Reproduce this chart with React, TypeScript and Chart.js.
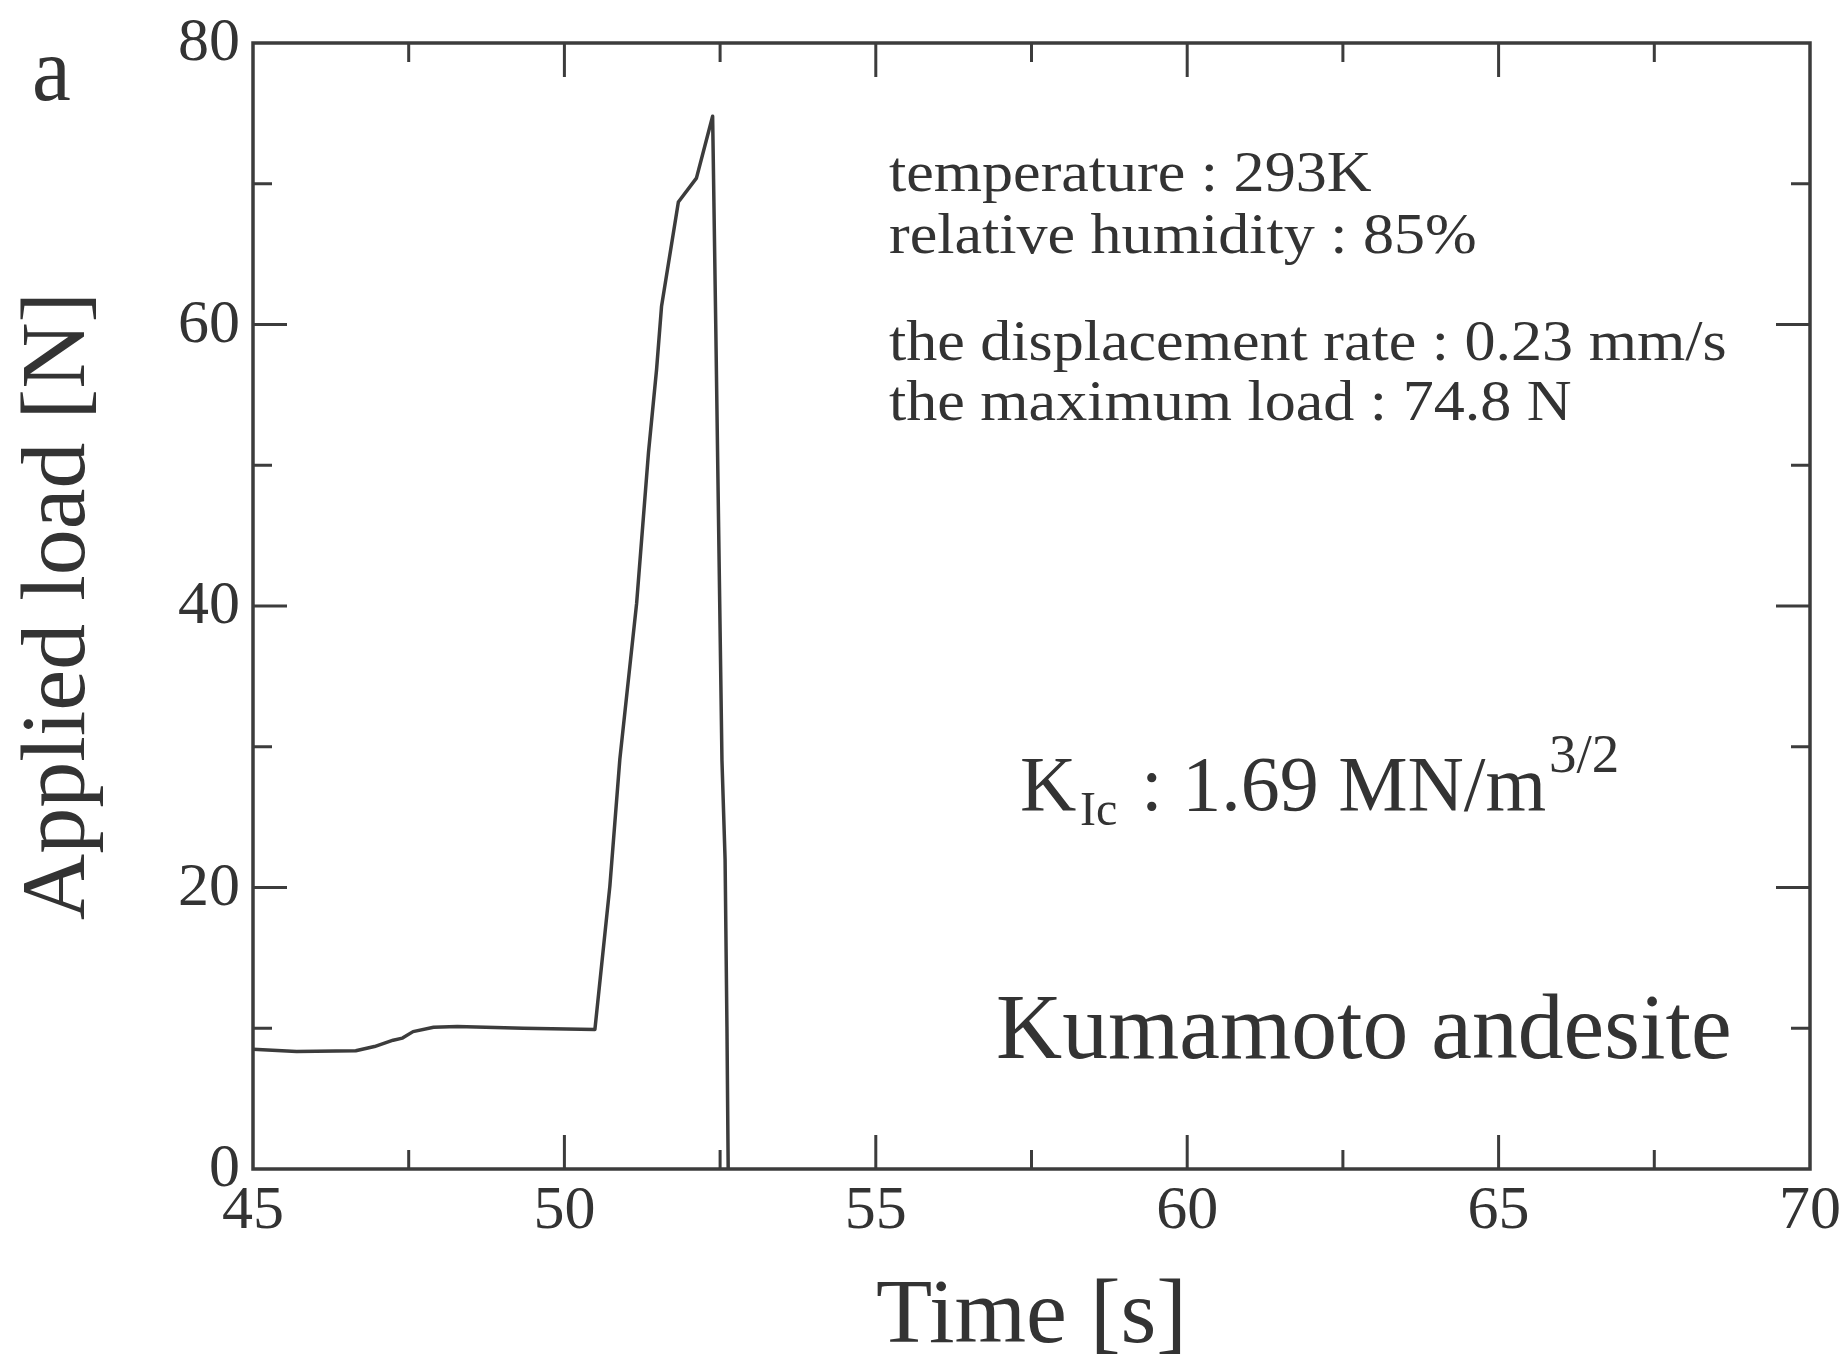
import React, { useEffect, useRef } from "react";
import { Chart, registerables } from "chart.js";

Chart.register(...registerables);

// ---- data ----
const times = [
  45.0, 45.7, 46.65, 46.95, 47.25, 47.4, 47.57, 47.9, 48.28, 49.34, 50.49,
  50.73, 50.89, 51.16, 51.35, 51.48, 51.56, 51.83, 52.12, 52.38, 52.43, 52.53,
  52.58, 52.61, 52.63,
];
const loads = [
  8.5, 8.35, 8.4, 8.7, 9.15, 9.3, 9.76, 10.07, 10.13, 10.0, 9.92, 20.1, 29.1,
  40.2, 50.9, 56.8, 61.3, 68.7, 70.4, 74.8, 60.0, 29.0, 22.0, 10.1, 0.0,
];

const xMin = 45;
const xMax = 70;
const xMajorStep = 5;
const xMinorStep = 2.5;
const yMin = 0;
const yMax = 80;
const yMajorStep = 20;
const yMinorStep = 10;

const xTitle = "Time [s]";
const yTitle = "Applied load [N]";
const panelLabel = "a";
const infoLines = [
  "temperature : 293K",
  "relative humidity : 85%",
  "the displacement rate : 0.23 mm/s",
  "the maximum load : 74.8 N",
];
const kMain = "K";
const kSub = "Ic";
const kValue = ": 1.69 MN/m";
const kSup = "3/2";
const rockName = "Kumamoto andesite";

const FONT = '"Liberation Serif", "Times New Roman", serif';
const TEXT = "#333333";
const LINE = "#3c3c3c";

function drawText(
  ctx: CanvasRenderingContext2D,
  text: string,
  x: number,
  y: number,
  size: number,
  sx: number,
  align: CanvasTextAlign = "left"
) {
  ctx.save();
  ctx.translate(x, y);
  ctx.scale(sx, 1);
  ctx.font = `${size}px ${FONT}`;
  ctx.fillStyle = TEXT;
  ctx.textAlign = align;
  ctx.textBaseline = "alphabetic";
  ctx.fillText(text, 0, 0);
  ctx.restore();
}

const framePlugin = {
  id: "frameTicksText",
  afterDraw(chart: any) {
    const ctx: CanvasRenderingContext2D = chart.ctx;
    const { left, right, top, bottom } = chart.chartArea;
    const xs = chart.scales.x;
    const ys = chart.scales.y;
    ctx.save();
    ctx.strokeStyle = LINE;
    ctx.lineWidth = 3.5;
    ctx.strokeRect(left, top, right - left, bottom - top);
    ctx.lineWidth = 3;
    ctx.beginPath();
    for (let v = xMin + xMinorStep; v < xMax - 1e-9; v += xMinorStep) {
      const major = Math.abs(v / xMajorStep - Math.round(v / xMajorStep)) < 1e-6;
      const len = major ? 34 : 19;
      const px = xs.getPixelForValue(v);
      ctx.moveTo(px, bottom);
      ctx.lineTo(px, bottom - len);
      ctx.moveTo(px, top);
      ctx.lineTo(px, top + len);
    }
    for (let v = yMin + yMinorStep; v < yMax - 1e-9; v += yMinorStep) {
      const major = Math.abs(v / yMajorStep - Math.round(v / yMajorStep)) < 1e-6;
      const len = major ? 34 : 19;
      const py = ys.getPixelForValue(v);
      ctx.moveTo(left, py);
      ctx.lineTo(left + len, py);
      ctx.moveTo(right, py);
      ctx.lineTo(right - len, py);
    }
    ctx.stroke();
    ctx.restore();

    // tick labels from the scales' own ticks
    xs.ticks.forEach((t: any) => {
      drawText(ctx, String(t.value), xs.getPixelForValue(t.value), bottom + 59, 62, 1, "center");
    });
    ys.ticks.forEach((t: any) => {
      drawText(ctx, String(t.value), left - 13, ys.getPixelForValue(t.value) + 17, 62, 1, "right");
    });

    // annotations
    drawText(ctx, panelLabel, 32, 100, 92, 0.95);
    const base = [191, 253, 360, 420];
    infoLines.forEach((t, i) => drawText(ctx, t, 889, base[i], 58, 1.07));
    drawText(ctx, kMain, 1020, 810, 78, 1);
    drawText(ctx, kSub, 1080, 825, 48, 1);
    drawText(ctx, kValue, 1141, 810, 78, 1);
    drawText(ctx, kSup, 1549, 772, 55, 1);
    drawText(ctx, rockName, 996, 1058, 94, 0.975);
  },
};

export default function App() {
  const canvasRef = useRef<HTMLCanvasElement | null>(null);

  useEffect(() => {
    const canvas = canvasRef.current;
    if (!canvas) return;
    const points = times.map((t, i) => ({ x: t, y: loads[i] }));
    const chart = new Chart(canvas, {
      type: "line",
      data: {
        datasets: [
          {
            data: points,
            borderColor: LINE,
            borderWidth: 3.5,
            borderJoinStyle: "round",
            pointRadius: 0,
            tension: 0,
            fill: false,
          },
        ],
      },
      options: {
        animation: false,
        responsive: false,
        devicePixelRatio: 1,
        layout: { padding: { top: 43, right: 37, left: 0, bottom: 0 } },
        plugins: { legend: { display: false }, tooltip: { enabled: false } },
        scales: {
          x: {
            type: "linear",
            min: xMin,
            max: xMax,
            ticks: { stepSize: xMajorStep, display: false },
            grid: { display: false, drawTicks: false },
            border: { display: false },
            title: {
              display: true,
              text: xTitle,
              color: TEXT,
              font: { family: FONT, size: 92, lineHeight: 1 },
              padding: { top: 0, bottom: 7 },
            },
            afterFit(s: any) {
              s.height = 202;
            },
          },
          y: {
            type: "linear",
            min: yMin,
            max: yMax,
            ticks: { stepSize: yMajorStep, display: false },
            grid: { display: false, drawTicks: false },
            border: { display: false },
            title: {
              display: true,
              text: yTitle,
              color: TEXT,
              font: { family: FONT, size: 92, lineHeight: 1 },
              padding: { top: 14, bottom: 0 },
            },
            afterFit(s: any) {
              s.width = 253;
            },
          },
        },
      },
      plugins: [framePlugin],
    });
    return () => chart.destroy();
  }, []);

  return (
    <div
      style={{
        position: "absolute",
        left: 0,
        top: 0,
        width: 1847,
        height: 1371,
        background: "#ffffff",
      }}
    >
      <canvas
        ref={canvasRef}
        width={1847}
        height={1371}
        style={{ display: "block", width: 1847, height: 1371 }}
      />
    </div>
  );
}
